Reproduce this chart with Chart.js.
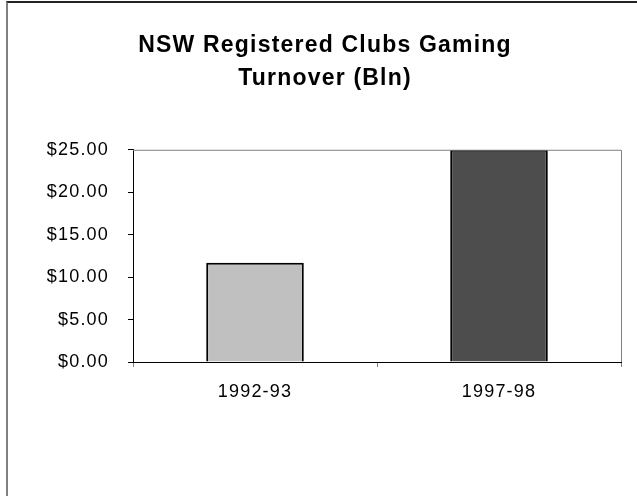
<!DOCTYPE html>
<html>
<head>
<meta charset="utf-8">
<script src="https://cdn.jsdelivr.net/npm/chart.js@4"></script>
<style>
  html, body { margin: 0; padding: 0; background: #ffffff; }
  #wrap { position: relative; width: 637px; height: 496px; overflow: hidden; }
  #frame { position: absolute; left: 6px; top: 1px; width: 700px; height: 600px;
           border-top: 2px solid #222222; border-left: 2px solid #808080; }
  canvas { position: absolute; left: 0; top: 0; }
</style>
</head>
<body>
<div id="wrap">
  <div id="frame"></div>
  <canvas id="c" width="637" height="496"></canvas>
</div>
<script>
const titleLines = ['NSW Registered Clubs Gaming', 'Turnover (Bln)'];
const categories = ['1992-93', '1997-98'];
const turnover = [11.7, 25.0];
const barColors = ['#c0c0c0', '#4d4d4d'];
const yTicks = [0, 5, 10, 15, 20, 25];

const spacingPlugin = {
  id: 'spacing',
  beforeDraw(chart) { chart.ctx.letterSpacing = '1.2px'; },
  afterDraw(chart) {
    const a = chart.chartArea, ctx = chart.ctx;
    ctx.save();
    ctx.strokeStyle = '#808080';
    ctx.lineWidth = 1;
    ctx.beginPath();
    ctx.moveTo(a.left, a.top + 0.5);
    ctx.lineTo(a.right + 0.5, a.top + 0.5);
    ctx.lineTo(a.right + 0.5, a.bottom);
    ctx.stroke();
    ctx.restore();
  }
};

new Chart(document.getElementById('c'), {
  type: 'bar',
  data: {
    labels: categories,
    datasets: [{
      data: turnover,
      backgroundColor: barColors,
      borderColor: '#000000',
      borderWidth: 2,
      barPercentage: 0.4,
      categoryPercentage: 1.0
    }]
  },
  options: {
    responsive: false,
    animation: false,
    devicePixelRatio: 1,
    layout: { padding: { left: 29, right: 16, top: 0, bottom: 0 } },
    plugins: {
      legend: { display: false },
      tooltip: { enabled: false },
      title: {
        display: true,
        text: titleLines,
        color: '#000000',
        font: { family: 'Liberation Sans', size: 23, weight: 'bold', lineHeight: 1.43 },
        padding: { top: 29, bottom: 55 }
      }
    },
    scales: {
      x: {
        afterFit(s) { s.height = 134; },
        grid: { offset: true, drawOnChartArea: false, tickLength: 5, color: '#808080' },
        border: { color: '#000000', width: 1 },
        ticks: { color: '#000000', padding: 14, font: { family: 'Liberation Sans', size: 18 } }
      },
      y: {
        min: 0, max: 25,
        afterFit(s) { s.width = 104; },
        afterBuildTicks(s) { s.ticks = yTicks.map(v => ({ value: v })); },
        grid: { drawOnChartArea: false, tickLength: 5, color: '#000000' },
        border: { color: '#000000', width: 1 },
        ticks: {
          color: '#000000', padding: 19,
          font: { family: 'Liberation Sans', size: 18 },
          callback: v => '$' + Number(v).toFixed(2)
        }
      }
    }
  },
  plugins: [spacingPlugin]
});
</script>
</body>
</html>
